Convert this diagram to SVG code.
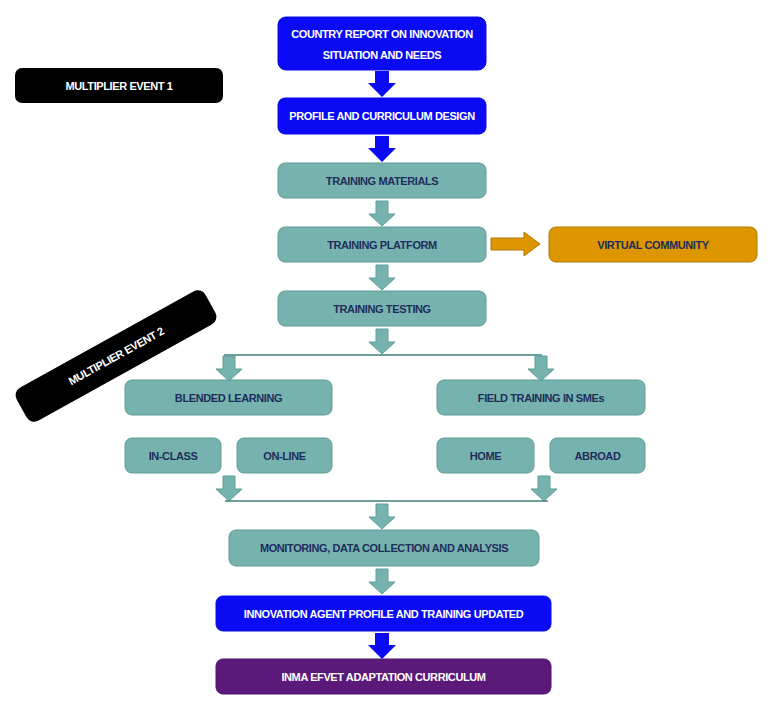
<svg xmlns="http://www.w3.org/2000/svg" width="778" height="706" viewBox="0 0 778 706">
<style>
text{font-family:"Liberation Sans",Arial,sans-serif;font-weight:bold;font-size:11px;text-anchor:middle;dominant-baseline:central;letter-spacing:-0.4px}
.blue{fill:#0A0AF5;stroke:#0A0AE0}
.teal{fill:#76B3AE;stroke:#5E9C97;stroke-width:1}
.blk{fill:#000}
.w{fill:#fff}
.n{fill:#1F2D5C}
.ta{fill:#76B3AE;stroke:#5E9C97}
.ba{fill:#0A0AF5}
.ln{stroke:#3F7F7A;stroke-width:1.5;fill:none}
</style>
<defs>
<path id="ad" d="M-6,0 H6 V13 H13 L0,25 L-13,13 H-6 Z"/>
<path id="ab" d="M-7,0 H7 V12 H14 L0,26 L-14,12 H-7 Z"/>
</defs>
<g id="connectors">
<use href="#ab" class="ba" x="382" y="71"/>
<use href="#ab" class="ba" x="382" y="136"/>
<use href="#ad" class="ta" x="382" y="201"/>
<use href="#ad" class="ta" x="382" y="265"/>
<use href="#ad" class="ta" x="382" y="329"/>
<path class="ln" d="M224,355 H542"/>
<use href="#ad" class="ta" x="229" y="356"/>
<use href="#ad" class="ta" x="541" y="356"/>
<use href="#ad" class="ta" x="229" y="476"/>
<use href="#ad" class="ta" x="544" y="476"/>
<path class="ln" d="M225,501 H548"/>
<use href="#ad" class="ta" x="382" y="504"/>
<use href="#ad" class="ta" x="382" y="569"/>
<use href="#ab" class="ba" x="382" y="633"/>
<path d="M491,238 H524 V232 L540,244 L524,256 V250 H491 Z" fill="#DD9500" stroke="#B07800"/>
</g>
<g id="n1"><rect class="blue" x="278" y="17" width="208" height="53" rx="8"/><text class="w" x="382" y="34">COUNTRY REPORT ON INNOVATION</text><text class="w" x="382" y="55">SITUATION AND NEEDS</text></g>
<g id="m1"><rect class="blk" x="15" y="68" width="208" height="35" rx="7"/><text class="w" x="119" y="85.5">MULTIPLIER EVENT 1</text></g>
<g id="n2"><rect class="blue" x="278" y="98" width="208" height="36" rx="7"/><text class="w" x="382" y="116">PROFILE AND CURRICULUM DESIGN</text></g>
<g id="n3"><rect class="teal" x="278" y="163" width="208" height="35" rx="7"/><text class="n" x="382" y="180.5">TRAINING MATERIALS</text></g>
<g id="n4"><rect class="teal" x="278" y="227" width="208" height="35" rx="7"/><text class="n" x="382" y="244.5">TRAINING PLATFORM</text></g>
<g id="vc"><rect x="549" y="227" width="208" height="35" rx="7" fill="#DD9500" stroke="#B07800"/><text class="n" x="653" y="244.5">VIRTUAL COMMUNITY</text></g>
<g id="n5"><rect class="teal" x="278" y="291" width="208" height="35" rx="7"/><text class="n" x="382" y="308.5">TRAINING TESTING</text></g>
<g id="m2" transform="translate(116,356) rotate(-29)"><rect class="blk" x="-108" y="-19" width="216" height="38" rx="9"/><text class="w" x="0" y="0">MULTIPLIER EVENT 2</text></g>
<g id="bl"><rect class="teal" x="125" y="380" width="207" height="35" rx="7"/><text class="n" x="228.5" y="397.5">BLENDED LEARNING</text></g>
<g id="ft"><rect class="teal" x="437" y="380" width="208" height="35" rx="7"/><text class="n" x="541" y="397.5">FIELD TRAINING IN SMEs</text></g>
<g id="ic"><rect class="teal" x="125" y="438" width="96" height="35" rx="7"/><text class="n" x="173" y="455.5">IN-CLASS</text></g>
<g id="ol"><rect class="teal" x="237" y="438" width="95" height="35" rx="7"/><text class="n" x="284.5" y="455.5">ON-LINE</text></g>
<g id="hm"><rect class="teal" x="437" y="438" width="97" height="35" rx="7"/><text class="n" x="485.5" y="455.5">HOME</text></g>
<g id="ab2"><rect class="teal" x="550" y="438" width="95" height="35" rx="7"/><text class="n" x="597.5" y="455.5">ABROAD</text></g>
<g id="mon"><rect class="teal" x="229" y="530" width="310" height="36" rx="7"/><text class="n" x="384" y="548">MONITORING, DATA COLLECTION AND ANALYSIS</text></g>
<g id="iap"><rect class="blue" x="216" y="596" width="335" height="35" rx="7"/><text class="w" x="383.5" y="613.5">INNOVATION AGENT PROFILE AND TRAINING UPDATED</text></g>
<g id="inma"><rect x="216" y="659" width="335" height="35" rx="7" fill="#5B1A7A" stroke="#4A1466"/><text class="w" x="383.5" y="676.5">INMA EFVET ADAPTATION CURRICULUM</text></g>
</svg>
